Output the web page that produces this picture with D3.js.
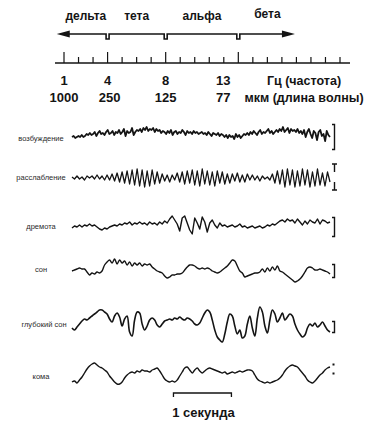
<!DOCTYPE html>
<html lang="ru">
<head>
<meta charset="UTF-8">
<title>Ритмы ЭЭГ</title>
<script src="https://d3js.org/d3.v7.min.js"></script>
<style>
  body { margin: 0; background: #fff; }
  svg { display: block; }
</style>
</head>
<body>
<div id="chart"></div>
<script>
// --- data ---
const bands = ["дельта", "тета", "альфа", "бета"];
const bandEdges = [1, 4, 8, 13, 17];            // Hz
const hzTicks = [1, 2, 3, 4, 5, 6, 7, 8, 9, 10, 11, 12, 13, 14, 15, 16, 17, 18, 19, 20];
const majorTicks = [1, 4, 8, 13];
const freqLabels = [1, 4, 8, 13];
const waveLabels = [1000, 250, 125, 77];       // мкм
const states = ["возбуждение", "расслабление", "дремота", "сон", "глубокий сон", "кома"];
const calibration = [25, 26, 19, 13, 11, 11];   // amplitude of the scale bars
const seconds = 4.45;                            // length of every trace

const excitement = [-3, -2, -4, -3, -2, -3, -1, -3, -2, 0, -1,
  1, -1, 0, 2, -2, 1, 3, 0, 1, -1, 2, 4, 0, 1, 3, -1, 2, 1, 4,
  0, 2, 5, -2, 3, 1, 2, 6, -1, 2, 4, 3, 5, 2, 6, 4,
  7, 3, 5, 4, 6, 2, 5, 3, 4, 1, 3, 2,
  0, 3, 1, 4, -1, 2, 3, 0, 2, 1, 4, 2, -1, 3, 1, 2, 0, 3, 1, 2, 0, 1,
  2, 0, 1, -1, 2, 0, -2, 1, 0, -1, 1, -2, 0, -1, -3, -1,
  -4, -1, -3, -2, -5, 0, -3, -1, -4, -2, 0, -1,
  1, -1, 2, 0, 3, 1, -1, 2, 4, 0, 2, 1, 3, 5, 1, 3, 0, 2, 4,
  2, 5, 3, 7, 2, 4, 6, 1, 5, 3, 4, 2, 5, 1, 3, 0,
  4, -3, 2, 5, 0, -4, 3, 1, -6, 2, 4, -2, 0, -7, 3, -1, -3];

const relaxation = [1, -1, 2, -1, 1, -2, 2, 0,
  2, -1, 3, -1, 2, -2, 3, -2,
  4, -3, 5, -4, 6, -5, 7, -6,
  8, -7, 9, -8, 8, -9, 7, -8,
  8, -6, 6, -5, 4, -3, 3, -4,
  3, -2, 5, -4, 6, -6, 7, -5,
  8, -7, 7, -8, 9, -6, 7, -7,
  6, -8, 7, -5, 6, -6, 4, -5,
  4, -3, 5, -4, 3, -4, 4, -2,
  3, -2, 2, -3, 2, -1, 1, -2,
  4, -5, 7, -6, 8, -9, 9, -7,
  8, -9, 7, -8, 9, -7, 8, -9,
  6, -8, 9, -7, 5, -8, 6, -4];

const drowsiness = [-2, 0, -1, 1, -1, 1, 0, 2,
  0, 1, -1, -3, -4, -2, -3, -1,
  0, 1, 0, 2, 1, 3, 2, 4,
  1, 3, 2, 4, 2, 3, 1, 4,
  2, 3, 1, 4, 2, 5, 3, 7,
  10, 6, 2, -5, 8, 10, 3, -4,
  -8, 8, 3, -3, 9, 4, -6, 3,
  6, 1, -2, 3, 0, 1, -1, 0,
  1, -1, 0, 2, -1, 0, -2, -1,
  0, -2, -1, 0, -2, -1, 1, 0,
  2, 1, 3, 5, 6, 4, 7, 5,
  6, 3, 7, 4, 1, 5, 2, 6,
  4, 3, 7, 2, 6, 5, 3, 4];

const sleep = [-1, 0, 1, 2, 1, 1, -2, -5, -3, -4,
  -2, -3, -1, 5, 8, 10, 7, 11, 6, 10,
  7, 9, 5, 8, 4, 7, 5, 7, 4, 6,
  5, 6, 3, 1, -1, -2, -3, -6, -8, -7,
  -5, -5, -4, -4, -3, 0, 3, 5, 5, 4,
  2, 1, 2, 1, 2, 1, -1, -2, -3, -2,
  0, 2, 4, 7, 10, 9, 4, -1, -3, -7,
  -6, -5, -4, -3, -3, -2, 1, -2, 2, -1,
  3, 0, 4, -1, -2, -4, -6, -8, -10, -12,
  -11, -9, -6, -2, 2, 3, 2, 0, 0, 1,
  0, -1, -2, -4];

const deepSleep = [-6, -8, -5, -2, 1, 3, 2, 4, 6, 8,
  10, 12, 12, 10, 8, 3, 0, 6, 9, 5,
  -4, 3, 6, -10, -14, 2, 10, 9, -2, -8,
  -4, 2, 4, 2, -3, -5, -2, 1, 2, 3,
  2, 4, 3, 5, 3, 2, 4, 3, 1, -2,
  -3, -1, 4, 9, 12, 10, 2, -8, -15, -18,
  -20, -12, 0, 8, 6, -4, -12, -8, -16, -14,
  -2, 6, -6, -14, 4, 15, 10, -4, -11, 2,
  12, 8, 0, 4, 9, 2, 5, 8, 6, -2,
  -8, -12, -15, -13, -6, -2, -4, -1, -5, -3,
  0, -4, -8, -10];

const coma = [-10, -9, -11, -8, -5, -1, 3, 6, 8, 9,
  7, 5, 4, 2, 0, -4, -7, -10, -12, -12,
  -10, -6, -3, -1, 0, -1, 1, 0, 2, 1,
  1, 0, 2, 3, 4, 1, -3, -7, -9, -10,
  -9, -10, -8, -4, 0, 4, 5, 2, -1, 2,
  4, 1, -1, 1, 3, 4, 3, 2, 1, 0,
  -1, 0, -2, -1, 0, -1, 0, 1, 0, 1,
  2, 2, 1, -3, -7, -9, -10, -11, -10, -11,
  -10, -9, -8, -6, -3, 1, 4, 6, 7, 6,
  5, 2, -1, -4, -8, -10, -11, -9, -6, -3,
  -1, 2, 4, 5];

const traces = [excitement, relaxation, drowsiness, sleep, deepSleep, coma];

// --- layout ---
const width = 370, height = 430;
const ink = "#141414";
const font = "'Liberation Sans', Arial, sans-serif";
const traceBase = [134, 178, 226, 270, 322, 372];
const labelY = [139, 178, 227, 270, 325, 377];
const calCenter = [137, 177, 227, 271, 327, 369];
const calStyle = ["bracket", "split", "bracket", "bracket", "bracket", "dots"];
const traceWidth = [1.8, 1.3, 1.4, 1.4, 1.6, 1.4];

const svg = d3.select("#chart").append("svg")
  .attr("width", width)
  .attr("height", height)
  .style("background", "#fff");

// frequency scale (top)
const hz = d3.scaleLinear().domain([1, 20]).range([64, 340]);

// band names
svg.append("g").selectAll("text")
  .data(bands)
  .join("text")
  .attr("x", (d, i) => hz((bandEdges[i] + bandEdges[i + 1]) / 2))
  .attr("y", (d, i) => i === 3 ? 18 : 20)
  .attr("text-anchor", "middle")
  .attr("font-family", font)
  .attr("font-weight", "bold")
  .attr("font-size", 12)
  .attr("fill", ink)
  .text(d => d);

// double arrow with notches at the band borders
const arrowY = 34, xl = hz(0.5), xr = hz(16.9);
const inner = bandEdges.slice(1, 4);
let p = `M${xl + 10},${arrowY}`;
inner.forEach(e => {
  const x = hz(e);
  p += ` H${x - 1.5} V${arrowY + 5} H${x + 1.5} V${arrowY}`;
});
p += ` H${xr - 10}`;
svg.append("path")
  .attr("d", p)
  .attr("fill", "none")
  .attr("stroke", ink)
  .attr("stroke-width", 1.6);
svg.append("path")
  .attr("d", `M${xl},${arrowY} L${xl + 13},${arrowY - 3.5} L${xl + 13},${arrowY + 3.5} Z`)
  .attr("fill", ink);
svg.append("path")
  .attr("d", `M${xr},${arrowY} L${xr - 13},${arrowY - 3.5} L${xr - 13},${arrowY + 3.5} Z`)
  .attr("fill", ink);

// Hz axis
const axisY = 63;
svg.append("line")
  .attr("x1", 55).attr("x2", 350)
  .attr("y1", axisY).attr("y2", axisY)
  .attr("stroke", ink)
  .attr("stroke-width", 1.5);
svg.append("g").selectAll("line")
  .data(hzTicks)
  .join("line")
  .attr("x1", d => hz(d)).attr("x2", d => hz(d))
  .attr("y1", d => majorTicks.includes(d) ? axisY - 11 : axisY - 6)
  .attr("y2", axisY)
  .attr("stroke", ink)
  .attr("stroke-width", 1.2);

const shift = i => i === freqLabels.length - 1 ? -15 : 0;
svg.append("g").selectAll("text")
  .data(freqLabels)
  .join("text")
  .attr("x", (d, i) => hz(d) + shift(i))
  .attr("y", 85)
  .attr("text-anchor", "middle")
  .attr("font-family", font)
  .attr("font-weight", "bold")
  .attr("font-size", 13)
  .attr("fill", ink)
  .text(d => d);
svg.append("g").selectAll("text")
  .data(waveLabels)
  .join("text")
  .attr("x", (d, i) => hz(freqLabels[i]) + shift(i) + (i === 1 ? 2 : 0))
  .attr("y", 102)
  .attr("text-anchor", "middle")
  .attr("font-family", font)
  .attr("font-weight", "bold")
  .attr("font-size", 13)
  .attr("fill", ink)
  .text(d => d);

svg.append("text")
  .attr("x", 304).attr("y", 85)
  .attr("text-anchor", "middle")
  .attr("font-family", font)
  .attr("font-weight", "bold")
  .attr("font-size", 12.5)
  .attr("fill", ink)
  .text("Гц (частота)");
svg.append("text")
  .attr("x", 304).attr("y", 102)
  .attr("text-anchor", "middle")
  .attr("font-family", font)
  .attr("font-weight", "bold")
  .attr("font-size", 12.5)
  .attr("fill", ink)
  .text("мкм (длина волны)");

// traces
const time = d3.scaleLinear().domain([0, seconds]).range([72, 330]);
const smooth = [false, false, false, true, true, true];

traces.forEach((vals, k) => {
  const base = traceBase[k];
  const amp = d3.scaleLinear().domain([-1, 1]).range([base + 1, base - 1]);
  const line = d3.line()
    .x((d, i) => time(i * seconds / (vals.length - 1)))
    .y(d => amp(d))
    .curve(smooth[k] ? d3.curveCatmullRom.alpha(0.5) : d3.curveLinear);

  svg.append("path")
    .datum(vals)
    .attr("d", line)
    .attr("fill", "none")
    .attr("stroke", ink)
    .attr("stroke-width", traceWidth[k])
    .attr("stroke-linejoin", "round");

  svg.append("text")
    .attr("x", k === 4 ? 44 : 41)
    .attr("y", labelY[k])
    .attr("dominant-baseline", "middle")
    .attr("text-anchor", "middle")
    .attr("font-family", font)
    .attr("font-size", 7.5)
    .attr("fill", "#2a2a2a")
    .text(states[k]);

  // calibration bar
  const cx = 334.5, h = calibration[k], c = calCenter[k];
  const top = c - h / 2, bot = c + h / 2;
  const cal = svg.append("path")
    .attr("fill", "none")
    .attr("stroke", ink)
    .attr("stroke-width", 1.4);
  if (calStyle[k] === "bracket") {
    cal.attr("d", `M${cx - 2.5},${top} H${cx} V${bot} H${cx - 2.5}`);
  } else if (calStyle[k] === "split") {
    cal.attr("d", `M${cx - 2.5},${top} H${cx + 2.5} M${cx},${top} V${top + 8}` +
      ` M${cx},${bot - 8} V${bot} M${cx - 2.5},${bot} H${cx + 2.5}`);
  } else {
    cal.attr("d", `M${cx - 1},${top} V${top + 2} M${cx - 1},${bot - 2} V${bot}`)
      .attr("stroke-width", 2);
  }
});

// one-second bar
const secY = 393;
svg.append("path")
  .attr("d", `M${time(1.75)},${secY + 4} V${secY} H${time(2.75)} V${secY + 4}`)
  .attr("fill", "none")
  .attr("stroke", ink)
  .attr("stroke-width", 1.3);
svg.append("text")
  .attr("x", (time(1.75) + time(2.75)) / 2 + 1)
  .attr("y", 417)
  .attr("text-anchor", "middle")
  .attr("font-family", font)
  .attr("font-weight", "bold")
  .attr("font-size", 13)
  .attr("fill", ink)
  .text("1 секунда");
</script>
</body>
</html>
